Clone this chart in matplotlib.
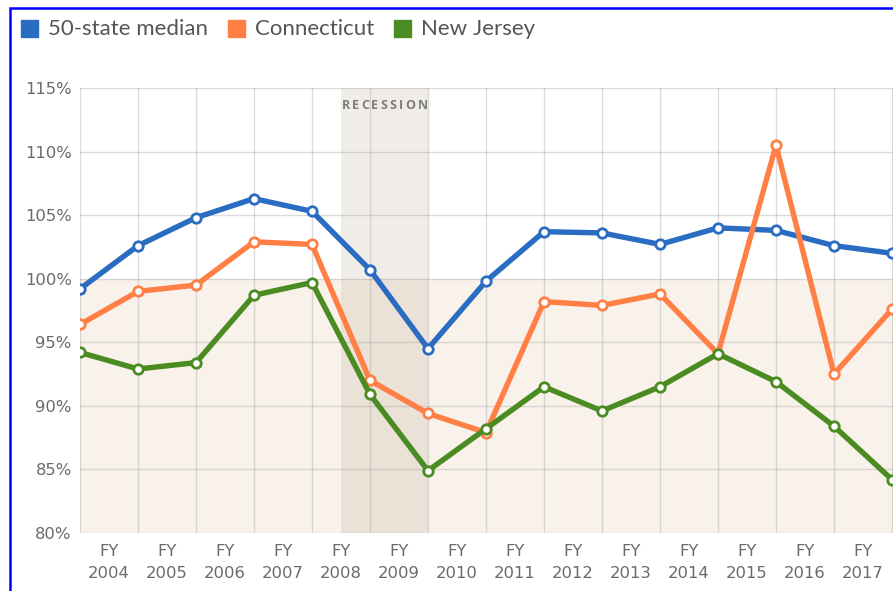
import numpy as np
import matplotlib.pyplot as plt
from matplotlib.patches import Rectangle
from matplotlib.ticker import FixedLocator, FuncFormatter

# fiscal years shown as category labels (centred between the gridlines)
years = ["FY\n%d" % y for y in range(2004, 2018)]

# values read at the 15 gridline positions
median_50 = [99.2, 102.6, 104.8, 106.3, 105.3, 100.7, 94.5, 99.8, 103.7, 103.6, 102.7, 104.0, 103.8, 102.6, 102.0]
connecticut = [96.4, 99.0, 99.5, 102.9, 102.7, 92.0, 89.4, 87.9, 98.2, 97.9, 98.8, 94.1, 110.5, 92.5, 97.6]
new_jersey = [94.2, 92.9, 93.4, 98.7, 99.7, 90.9, 84.9, 88.2, 91.5, 89.6, 91.5, 94.1, 91.9, 88.4, 84.2]

series_names = ["50-state median", "Connecticut", "New Jersey"]
colors = ["#2a6cc2", "#ff7f45", "#4a8c22"]

W, H = 893, 591
fig = plt.figure(figsize=(W / 100, H / 100), dpi=100)

# plot area: x=0 at px 80, 58 px per step; 115% at px 88, 80% at px 533
x_hi = 14.6
ax = fig.add_axes([80 / W, (H - 533) / H, x_hi * 58 / W, 445 / H])
ax.set_xlim(0, x_hi)
ax.set_ylim(80, 115)

# shaded region below 100%, recession band
ax.axhspan(80, 100, color="#f9f2ea", zorder=0, lw=0)
ax.axvspan(4.5, 6.0, color="#8a7350", alpha=0.12, zorder=0.5, lw=0)

# letter-spaced "RECESSION" label
fig.canvas.draw()
rend = fig.canvas.get_renderer()
label = "RECESSION"
chars = []
for ch in label:
    t = ax.text(0, 0, ch, fontsize=9, color="#7d7d7d", family="Open Sans",
                fontweight="bold", ha="left", va="center")
    chars.append((t, t.get_window_extent(rend).width))
track = 2.2
total = sum(w for _, w in chars) + track * (len(chars) - 1)
x0_px = ax.transData.transform((5.25, 113.6))
cur = x0_px[0] - total / 2
for t, w in chars:
    t.set_transform(None)
    t.set_position((cur, x0_px[1]))
    cur += w + track

# grid
for yv in range(80, 116, 5):
    ax.axhline(yv, color="#9a9a9a", alpha=0.35, lw=1, zorder=1)
for xv in range(0, 16):
    ax.axvline(xv, color="#9a9a9a", alpha=0.35, lw=1, zorder=1)

xs = np.arange(len(median_50))
for vals, c, z in zip([median_50, connecticut, new_jersey], colors, [3, 4, 5]):
    ax.plot(xs, vals, color=c, lw=3.9, zorder=z, marker="o", ms=6.8,
            mfc="white", mec=c, mew=2, clip_on=True, solid_joinstyle="round")

for s in ax.spines.values():
    s.set_visible(False)

ax.yaxis.set_major_locator(FixedLocator(range(80, 116, 5)))
ax.yaxis.set_major_formatter(FuncFormatter(lambda v, p: "%d%%" % v))
ax.set_xticks(np.arange(14) + 0.5)
ax.set_xticklabels(years, linespacing=1.55)
ax.tick_params(length=0, colors="#6a6a6a", labelsize=11.8)
ax.tick_params(axis="y", pad=6)
ax.tick_params(axis="x", pad=8)
for t in ax.get_xticklabels() + ax.get_yticklabels():
    t.set_family("DejaVu Sans")

# legend along the top
lx = 21
for name, c in zip(series_names, colors):
    fig.patches.append(Rectangle((lx / W, (H - 37) / H), 17 / W, 17 / H,
                                 transform=fig.transFigure, color=c))
    t = fig.text((lx + 27) / W, (H - 29) / H, name, fontsize=16,
                 color="#555555", family="Lato", va="center", ha="left")
    bb = t.get_window_extent(rend)
    lx = bb.x1 + 20

# blue frame (left and top edges visible)
fig.patches.append(Rectangle((10 / W, -0.05), 1.1, (H - 8) / H + 0.05,
                             transform=fig.transFigure, fill=False,
                             edgecolor="#0000ff", lw=1.8))

fig.savefig("out.png", dpi=100)
